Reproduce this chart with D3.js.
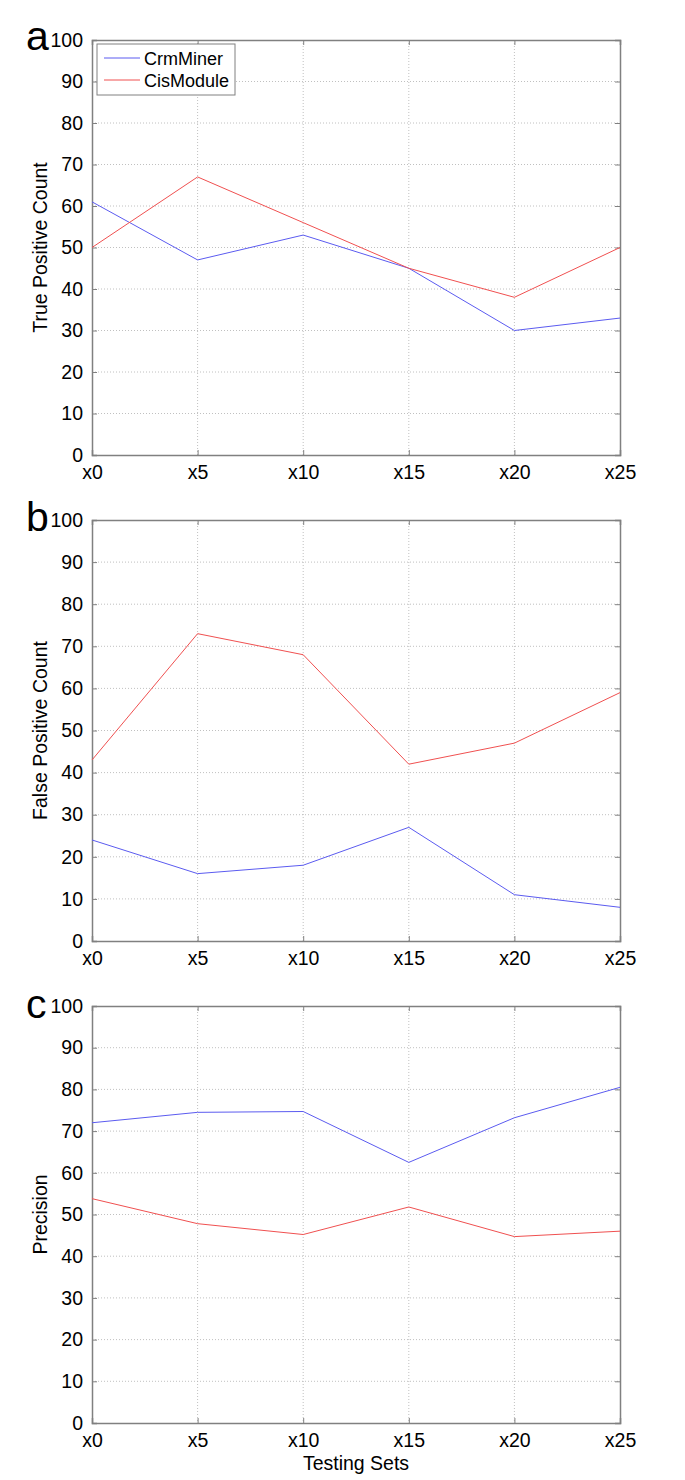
<!DOCTYPE html>
<html><head><meta charset="utf-8">
<script src="https://cdn.jsdelivr.net/npm/d3@7"></script>
<style>body{margin:0;background:#fff;} svg{display:block;font-family:"Liberation Sans",Arial,sans-serif;}</style>
</head><body>
<svg id="c" width="685" height="1480"></svg>
<script>
const categories = ["x0","x5","x10","x15","x20","x25"];
const yTicks = [0,10,20,30,40,50,60,70,80,90,100];
const seriesNames = ["CrmMiner","CisModule"];
const tpCrm = [61,47,53,45,30,33];
const tpCis = [50,67,56,45,38,50];
const fpCrm = [24,16,18,27,11,8];
const fpCis = [43,73,68,42,47,59];
const prCrm = [72,74.5,74.7,62.5,73.2,80.5];
const prCis = [53.8,47.8,45.2,51.8,44.7,46];

const colors = ["#5b5bf0","#f05050"];
const svg = d3.select("#c");
const L = 92, R = 620;
const FS = "19.5px";

const panels = [
  {letter:"a", ylabel:"True Positive Count", top:40, bottom:455, data:[tpCrm,tpCis], legend:true, letterY:50},
  {letter:"b", ylabel:"False Positive Count", top:520, bottom:941, data:[fpCrm,fpCis], legend:false, letterY:531},
  {letter:"c", ylabel:"Precision", top:1006, bottom:1423, data:[prCrm,prCis], legend:false, letterY:1018, xlabel:"Testing Sets"}
];

panels.forEach(p => {
  const x = d3.scalePoint().domain(categories).range([L,R]);
  const y = d3.scaleLinear().domain([0,100]).range([p.bottom,p.top]);
  const g = svg.append("g");
  g.selectAll(".gx").data(categories.slice(1,-1)).join("line")
    .attr("x1",d=>x(d)).attr("x2",d=>x(d)).attr("y1",p.top).attr("y2",p.bottom)
    .attr("stroke","#b0b0b0").attr("stroke-width",0.8).attr("stroke-dasharray","1,2");
  g.selectAll(".gy").data(yTicks.slice(1,-1)).join("line")
    .attr("x1",L).attr("x2",R).attr("y1",d=>y(d)).attr("y2",d=>y(d))
    .attr("stroke","#b0b0b0").attr("stroke-width",0.8).attr("stroke-dasharray","1,2");
  const gl = g.append("g").attr("transform",`translate(${L},0)`).call(d3.axisLeft(y).tickValues(yTicks).tickSize(-5).tickPadding(9));
  const gr = g.append("g").attr("transform",`translate(${R},0)`).call(d3.axisRight(y).tickValues(yTicks).tickSize(-5).tickFormat(""));
  const gb = g.append("g").attr("transform",`translate(0,${p.bottom})`).call(d3.axisBottom(x).tickSize(-5).tickPadding(8));
  const gt = g.append("g").attr("transform",`translate(0,${p.top})`).call(d3.axisTop(x).tickSize(-5).tickFormat(""));
  [gl,gr,gb,gt].forEach(a => {
    a.attr("font-size",null).attr("font-family",null);
    a.select(".domain").attr("stroke","#808080").attr("stroke-width",1.5);
    a.selectAll(".tick line").attr("stroke","#808080");
    a.selectAll("text").attr("fill","#000").style("font-size",FS);
  });
  gb.selectAll("text").attr("dy","0.8em");
  const line = d3.line().x((d,i)=>x(categories[i])).y(d=>y(d));
  p.data.forEach((s,k)=>{
    g.append("path").datum(s).attr("d",line).attr("fill","none")
      .attr("stroke",colors[k]).attr("stroke-width",1);
  });
  g.append("text").attr("transform",`translate(47,${(p.top+p.bottom)/2}) rotate(-90)`)
    .attr("text-anchor","middle").style("font-size",FS).text(p.ylabel);
  g.append("text").attr("x",26).attr("y",p.letterY).style("font-size","41px").text(p.letter);
  if (p.xlabel) {
    g.append("text").attr("x",(L+R)/2).attr("y",p.bottom+47).attr("text-anchor","middle")
      .style("font-size",FS).text(p.xlabel);
  }
  if (p.legend) {
    const lg = g.append("g");
    lg.append("rect").attr("x",97).attr("y",44).attr("width",138).attr("height",51)
      .attr("fill","#fff").attr("stroke","#808080").attr("stroke-width",1);
    seriesNames.forEach((n,k)=>{
      const yy = 58 + k*22;
      lg.append("line").attr("x1",104).attr("x2",140).attr("y1",yy).attr("y2",yy)
        .attr("stroke",colors[k]).attr("stroke-width",1);
      lg.append("text").attr("x",144).attr("y",yy+7).style("font-size","18px").text(n);
    });
  }
});
</script>
</body></html>
